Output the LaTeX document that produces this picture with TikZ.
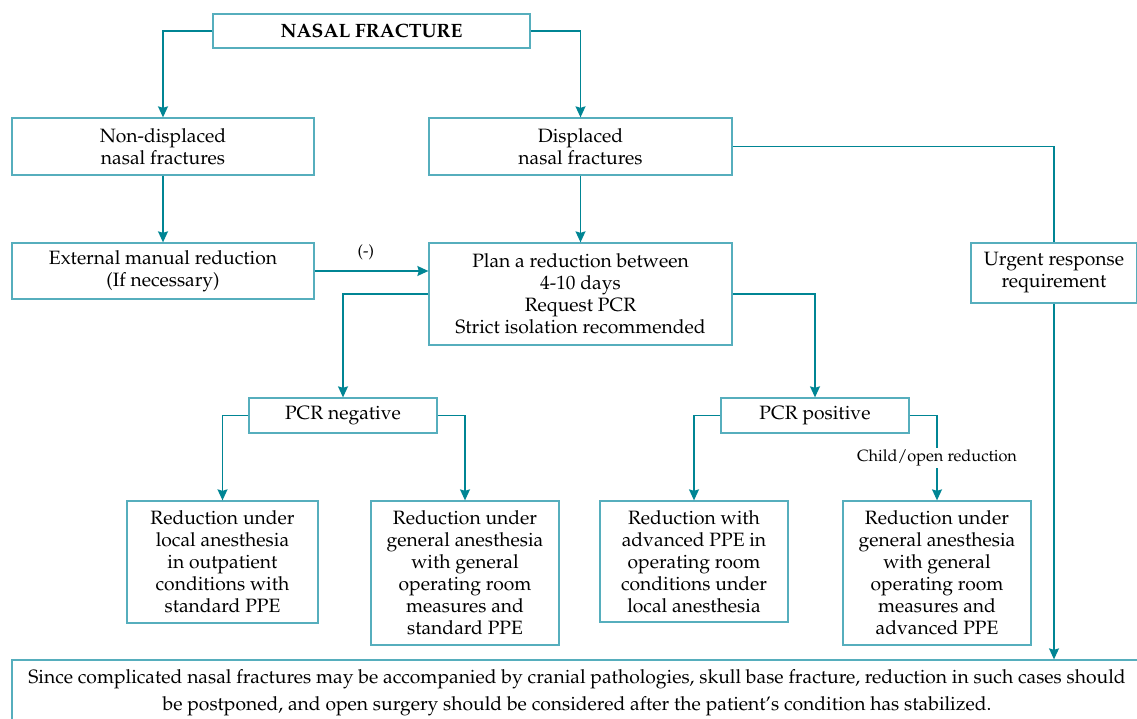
\documentclass[tikz,border=0pt]{standalone}
\usepackage[T1]{fontenc}
\renewcommand\rmdefault{ppl}
\usetikzlibrary{arrows.meta}
\definecolor{linec}{RGB}{0,133,148}
\definecolor{boxc}{RGB}{86,174,189}
\tikzset{
  box/.style={draw=boxc, line width=1.3pt, align=center, inner sep=0pt, text=black,
    font=\fontsize{19.3}{22}\selectfont},
  conn/.style={draw=linec, line width=1.3pt},
  arr/.style={conn, -{Stealth[length=11pt,width=10pt,inset=1.5pt]}},
  lab/.style={font=\fontsize{16.3}{19}\selectfont, text=black, inner sep=1pt}
}
\begin{document}
\begin{tikzpicture}[x=1pt,y=-1pt]
\useasboundingbox (0,0) rectangle (1137,719);
% nodes
\node[box, minimum width=317pt, minimum height=34pt] (nf) at (371.5,31) {\textbf{NASAL FRACTURE}};
\node[box, minimum width=302pt, minimum height=57pt] (nd) at (163,146.5) {Non-displaced\\nasal fractures};
\node[box, minimum width=303pt, minimum height=57pt] (dp) at (580.5,146.5) {Displaced\\nasal fractures};
\node[box, minimum width=302pt, minimum height=56pt] (emr) at (163,271) {External manual reduction\\(If necessary)};
\node[box, minimum width=303pt, minimum height=102pt] (plan) at (580.5,294) {Plan a reduction between\\4-10 days\\Request PCR\\Strict isolation recommended};
\node[box, minimum width=166pt, minimum height=60pt] (urg) at (1054,273) {Urgent response\\requirement};
\node[box, minimum width=188pt, minimum height=35pt] (neg) at (343,415.5) {PCR negative};
\node[box, minimum width=188pt, minimum height=35pt] (pos) at (815,415.5) {PCR positive};
\node[box, minimum width=191pt, minimum height=122pt] (b1) at (222.5,562) {Reduction under\\local anesthesia\\in outpatient\\conditions with\\standard PPE};
\node[box, minimum width=188pt, minimum height=144pt] (b2) at (465,573) {Reduction under\\general anesthesia\\with general\\operating room\\measures and\\standard PPE};
\node[box, minimum width=188pt, minimum height=121pt] (b3) at (694,561.5) {Reduction with\\advanced PPE in\\operating room\\conditions under\\local anesthesia};
\node[box, minimum width=188pt, minimum height=144pt] (b4) at (937,573) {Reduction under\\general anesthesia\\with general\\operating room\\measures and\\advanced PPE};
\node[box, font=\fontsize{19.3}{27}\selectfont, minimum width=1130pt, minimum height=66pt] (bot) at (577,693) {Since complicated nasal fractures may be accompanied by cranial pathologies, skull base fracture, reduction in such cases should\\be postponed, and open surgery should be considered after the patient's condition has stabilized.};
% connectors
\draw[arr] (nf.west) -| (nd.north);
\draw[arr] (nf.east) -| (dp.north);
\draw[conn] (dp.east) -| (urg.north);
\draw[arr] (nd.south) -- (emr.north);
\draw[arr] (dp.south) -- (plan.north);
\draw[arr] (emr.east) -- (emr.east -| plan.west) node[lab, pos=0.45, above=9pt] {(-)};
\draw[arr] (plan.west) -| (neg.north);
\draw[arr] (plan.east) -| (pos.north);
\draw[arr] (urg.south) -- (urg.south |- bot.north);
\draw[arr] (neg.west) -| (b1.north);
\draw[arr] (neg.east) -| (b2.north);
\draw[arr] (pos.west) -| (b3.north);
\draw[arr] (pos.east) -| (b4.north) node[lab, pos=0.75, fill=white, inner sep=2pt] {Child/open reduction};
\end{tikzpicture}
\end{document}
